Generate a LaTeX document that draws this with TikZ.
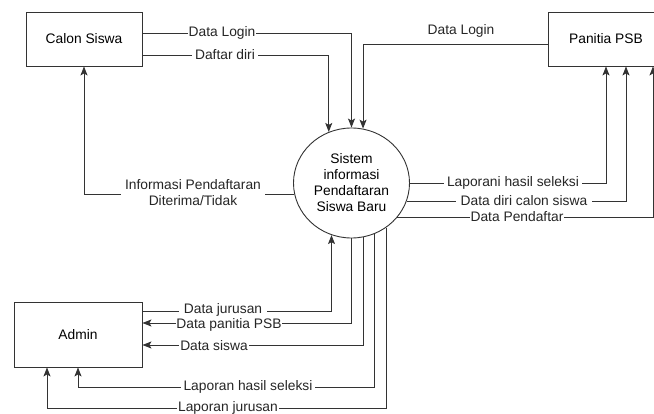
\documentclass[tikz,border=0pt]{standalone}
\usepackage{fontspec}
\setmainfont{Liberation Sans}
\usetikzlibrary{shapes.geometric, arrows.meta}
\tikzstyle{entity} = [rectangle, minimum width=116pt, minimum height=54pt, text centered, draw=black!80, line width=0.9pt]
\tikzstyle{process} = [ellipse, minimum width=116pt, minimum height=110pt, inner sep=0pt, align=center, draw=black!80, line width=0.9pt]
\tikzstyle{arrow} = [line width=0.9pt, draw=black!80, ->, >={Stealth[length=9pt,width=7pt,inset=2pt]}]
\tikzstyle{flowtext} = [fill=white, inner xsep=3pt, inner ysep=0pt, text=black!85]

\begin{document}
\begin{tikzpicture}[x=1pt, y=-1pt, font=\fontsize{13.8}{16}\selectfont]
\useasboundingbox (0,0) rectangle (654,414);
% Define the blocks
\node (calon) [entity] at (84,39) {Calon Siswa};
\node (panitia) [entity] at (606,39) {Panitia PSB};
\node (admin) [entity, minimum width=128pt, minimum height=65pt] at (78,334.5) {Admin};
\node (sistem) [process] at (351.5,183) {Sistem\\informasi\\Pendaftaran\\Siswa Baru};

% Route levels
\coordinate (loginc) at (351,33);
\coordinate (daftar) at (329,55);
\coordinate (loginp) at (363,44);
\coordinate (diri) at (626,201);
\coordinate (pendaftar) at (653,217);
\coordinate (jurusan) at (332,311);
\coordinate (dpanitia) at (351,323);
\coordinate (siswa) at (363,345);
\coordinate (hasil) at (78,387);
\coordinate (ljurusan) at (47,408);

% Draw the arrows
\draw [arrow] (calon.east |- loginc) -| (sistem.north);
\draw [arrow] (calon.east |- daftar) -| (sistem.114);
\draw [arrow] (panitia.west |- loginp) -| (sistem.78);
\draw [arrow] (sistem.191) -| (calon.south);
\draw [arrow] (sistem.east) -| (panitia.south);
\draw [arrow] (sistem.342) -| (panitia.south -| diri);
\draw [arrow] (sistem.323) -| (panitia.south -| pendaftar);
\draw [arrow] (admin.east |- jurusan) -| (sistem.249);
\draw [arrow] (sistem.south) |- (admin.east |- dpanitia);
\draw [arrow] (sistem.282) |- (admin.east |- siswa);
\draw [arrow] (sistem.294) |- (hasil) -- (admin.south);
\draw [arrow] (sistem.308) |- (ljurusan) -- (admin.south -| ljurusan);

% Flow labels
\node (tlogin) [flowtext, inner xsep=0.5pt] at (222,33) {Data Login};
\node (tdaftar) [flowtext] at (225,55) {Daftar diri};
\node (tloginp) [text=black!85] at (461,31) {Data Login};
\node (tinfo) [flowtext, align=center, inner xsep=4pt] at (193,192.5) {Informasi Pendaftaran\\Diterima/Tidak};
\node (tlaporani) [flowtext] at (513,183) {Laporani hasil seleksi};
\node (tdiri) [flowtext, inner xsep=5pt] at (524,201) {Data diri calon siswa};
\node (tpendaftar) [flowtext, inner xsep=0.5pt] at (517,217) {Data Pendaftar};
\node (tjurusan) [flowtext, inner xsep=5pt] at (223,309.5) {Data jurusan};
\node (tdpanitia) [flowtext, inner xsep=0.5pt] at (229,325) {Data panitia PSB};
\node (tsiswa) [flowtext, inner xsep=1pt] at (214,346) {Data siswa};
\node (thasil) [flowtext] at (248,387) {Laporan hasil seleksi};
\node (tljurusan) [flowtext, inner xsep=1pt] at (228,408) {Laporan jurusan};
\end{tikzpicture}
\end{document}
